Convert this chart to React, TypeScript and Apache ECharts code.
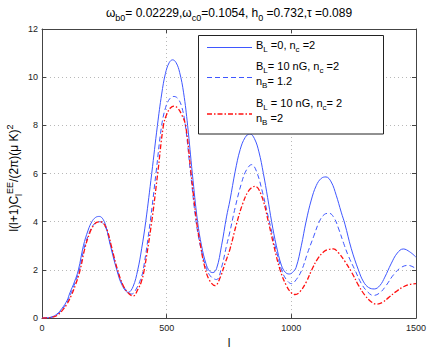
import React, { useEffect, useRef } from "react";
import * as echarts from "echarts";

// multipole l and l(l+1)C_l^EE/(2π) values
const L_BLUE = [0, 20, 40, 60, 80, 100, 112, 130, 146, 166, 185, 200, 215, 230, 245, 258, 273, 300, 322, 346, 365, 384, 400, 416, 440, 463, 480, 495, 510, 524, 538, 552, 568, 584, 603, 624, 640, 658, 672, 685, 700, 720, 740, 754, 775, 795, 815, 834, 852, 870, 888, 905, 921, 940, 960, 976, 992, 1005, 1019, 1040, 1059, 1080, 1100, 1120, 1139, 1160, 1180, 1200, 1215, 1240, 1269, 1290, 1310, 1333, 1355, 1375, 1400, 1425, 1449, 1475, 1500];
const V_BLUE = [0, 0.01, 0.05, 0.17, 0.4, 0.72, 1.05, 1.5, 2.0, 3.0, 3.65, 4.0, 4.18, 4.22, 4.1, 3.75, 3.07, 2.0, 1.35, 1.07, 1.3, 2.0, 2.9, 4.0, 6.0, 8.0, 9.3, 10.15, 10.6, 10.72, 10.6, 10.2, 9.35, 8.0, 6.0, 4.0, 3.0, 2.25, 1.95, 1.89, 2.05, 3.0, 4.2, 4.9, 6.1, 7.0, 7.5, 7.65, 7.45, 6.9, 6.0, 5.0, 4.0, 3.0, 2.2, 1.9, 1.83, 1.9, 2.1, 3.0, 4.0, 4.9, 5.5, 5.8, 5.86, 5.65, 5.1, 4.4, 3.9, 2.9, 2.0, 1.5, 1.27, 1.21, 1.35, 1.7, 2.25, 2.7, 2.87, 2.75, 2.53];

const L_DASH = [0, 20, 40, 60, 80, 100, 115, 132, 150, 170, 190, 205, 219, 232, 247, 261, 276, 302, 325, 345, 360, 380, 395, 406, 434, 457, 480, 496, 512, 529, 546, 561, 575, 596, 618, 635, 655, 675, 700, 720, 740, 754, 775, 800, 820, 841, 860, 885, 912, 935, 961, 980, 1001, 1020, 1042, 1065, 1090, 1112, 1132, 1152, 1172, 1190, 1210, 1230, 1255, 1280, 1305, 1329, 1355, 1380, 1410, 1440, 1469, 1500];
const V_DASH = [0, 0.01, 0.04, 0.14, 0.35, 0.65, 1.0, 1.45, 2.0, 2.95, 3.55, 3.85, 3.98, 4.0, 3.9, 3.6, 3.0, 2.0, 1.35, 1.08, 1.0, 1.25, 1.6, 2.0, 4.0, 6.0, 8.0, 8.75, 9.1, 9.2, 9.1, 8.75, 8.0, 6.0, 4.0, 3.0, 2.2, 1.75, 1.6, 2.1, 3.0, 3.6, 4.6, 5.6, 6.15, 6.37, 6.1, 5.2, 4.0, 3.0, 2.0, 1.6, 1.43, 1.6, 2.0, 2.7, 3.4, 4.0, 4.3, 4.35, 4.15, 3.7, 3.1, 2.55, 2.0, 1.45, 1.1, 0.94, 1.05, 1.35, 1.8, 2.1, 2.19, 2.05];

const L_RED = [0, 20, 40, 60, 80, 100, 118, 135, 153, 172, 192, 207, 221, 234, 249, 263, 278, 303, 328, 350, 366, 385, 398, 410, 440, 464, 487, 500, 515, 529, 544, 560, 576, 598, 620, 636, 651, 670, 694, 715, 735, 754, 780, 805, 830, 854, 880, 908, 930, 955, 980, 1000, 1015, 1035, 1060, 1082, 1105, 1130, 1150, 1169, 1190, 1215, 1242, 1270, 1295, 1320, 1342, 1365, 1390, 1420, 1450, 1475, 1500];
const V_RED = [0, 0.005, 0.03, 0.11, 0.3, 0.58, 0.95, 1.4, 2.0, 2.9, 3.55, 3.85, 3.98, 4.0, 3.9, 3.6, 3.0, 2.0, 1.3, 1.0, 0.92, 1.2, 1.5, 2.0, 4.0, 6.0, 8.0, 8.45, 8.72, 8.8, 8.72, 8.45, 8.0, 6.0, 4.0, 3.0, 2.2, 1.6, 1.35, 1.7, 2.3, 2.87, 3.9, 4.75, 5.3, 5.47, 5.1, 4.0, 3.0, 2.0, 1.35, 1.05, 0.98, 1.1, 1.5, 2.0, 2.45, 2.75, 2.85, 2.87, 2.7, 2.35, 1.9, 1.35, 0.95, 0.68, 0.58, 0.65, 0.85, 1.1, 1.3, 1.4, 1.43];

const X_MIN = 0, X_MAX = 1500, X_STEP = 500;
const Y_MIN = 0, Y_MAX = 12, Y_STEP = 2;

const zip = (ls: number[], vs: number[]) => ls.map((l, i) => [l, vs[i]]);

const FONT = "'Liberation Sans', Arial, Helvetica, sans-serif";
const BLUE = "#3f57ff";
const RED = "#ff1010";

export default function App() {
  const ref = useRef<HTMLDivElement>(null);
  useEffect(() => {
    if (!ref.current) return;
    const chart = echarts.init(ref.current, undefined, { renderer: "svg" });
    const grid = { left: 42, right: 13, top: 29, bottom: 28 };
    const gridLine = { show: true, lineStyle: { color: "#b8b8b8", type: [1, 3] as any, width: 1 } };
    const axisLine = { show: true, onZero: false, lineStyle: { color: "#444", width: 1 } };
    const tick = { show: true, inside: true, length: 4, lineStyle: { color: "#444" } };
    const label = { fontSize: 9, color: "#222", fontFamily: FONT, formatter: (v: number) => String(v) };
    const rich = (fs: number) => ({
      n: { fontSize: fs, fontFamily: FONT, color: "#111", lineHeight: fs + 6, verticalAlign: "middle" },
      s: { fontSize: fs - 3, fontFamily: FONT, color: "#111", verticalAlign: "bottom", lineHeight: fs + 6, padding: [5, 0, 0, 0] },
      p: { fontSize: fs - 3, fontFamily: FONT, color: "#111", verticalAlign: "top", lineHeight: fs + 6, padding: [0, 0, 5, 0] },
    });
    const option: any = {
      animation: false,
      backgroundColor: "#ffffff",
      grid,
      xAxis: [
        {
          type: "value", min: X_MIN, max: X_MAX, interval: X_STEP,
          axisLine, axisTick: tick, splitLine: gridLine,
          axisLabel: { ...label, margin: 5 },
          name: "l", nameLocation: "middle", nameGap: 14,
          nameTextStyle: { fontSize: 12, fontFamily: FONT, color: "#111" },
        },
        {
          type: "value", position: "top", min: X_MIN, max: X_MAX, interval: X_STEP,
          axisLine, axisTick: tick, splitLine: { show: false }, axisLabel: { show: false },
        },
      ],
      yAxis: [
        {
          type: "value", min: Y_MIN, max: Y_MAX, interval: Y_STEP,
          axisLine, axisTick: tick, splitLine: gridLine,
          axisLabel: { ...label, margin: 4 },
        },
        {
          type: "value", position: "right", min: Y_MIN, max: Y_MAX, interval: Y_STEP,
          axisLine, axisTick: tick, splitLine: { show: false }, axisLabel: { show: false },
        },
      ],
      series: [
        {
          type: "line", name: "B_L=0, n_c=2", data: zip(L_BLUE, V_BLUE), smooth: 0.4, showSymbol: false,
          lineStyle: { color: BLUE, width: 1 }, z: 3,
        },
        {
          type: "line", name: "B_L=10 nG, n_c=2, n_B=1.2", data: zip(L_DASH, V_DASH), smooth: 0.4, showSymbol: false,
          lineStyle: { color: BLUE, width: 1, type: [5, 3] }, z: 3,
        },
        {
          type: "line", name: "B_L=10 nG, n_c=2, n_B=2", data: zip(L_RED, V_RED), smooth: 0.4, showSymbol: false,
          lineStyle: { color: RED, width: 1.3, type: [5, 2, 1.5, 2] }, z: 4,
        },
      ],
      graphic: [
        {
          type: "text", x: 229, y: 13, z: 10,
          style: {
            text: "{n|ω}{s|b0}{n|= 0.02229,ω}{s|c0}{n|=0.1054, h}{s|0}{n| =0.732,τ =0.089}",
            rich: rich(12), align: "center", verticalAlign: "middle",
          },
        },
        {
          type: "text", x: 14, y: 178, rotation: Math.PI / 2, z: 10,
          style: {
            text: "{n|l(l+1)C}{s|l}{p|EE}{n|/(2π)(μ K)}{p|2}",
            rich: rich(12), align: "center", verticalAlign: "middle",
          },
        },
        {
          type: "rect", z: 20,
          shape: { x: 198.5, y: 35.5, width: 185, height: 98.5 },
          style: { fill: "#fff", stroke: "#222", lineWidth: 1 },
        },
        {
          type: "line", z: 21, shape: { x1: 207, y1: 47.5, x2: 252, y2: 47.5 },
          style: { stroke: BLUE, lineWidth: 1 },
        },
        {
          type: "line", z: 21, shape: { x1: 207, y1: 77.5, x2: 252, y2: 77.5 },
          style: { stroke: BLUE, lineWidth: 1, lineDash: [5, 3] },
        },
        {
          type: "line", z: 21, shape: { x1: 207, y1: 114, x2: 252, y2: 114 },
          style: { stroke: RED, lineWidth: 1.3, lineDash: [5, 2, 1.5, 2] },
        },
        {
          type: "text", x: 256, y: 45, z: 21,
          style: { text: "{n|B}{s|L}{n| =0, n}{s|c}{n| =2}", rich: rich(11), align: "left", verticalAlign: "middle" },
        },
        {
          type: "text", x: 256, y: 66, z: 21,
          style: { text: "{n|B}{s|L}{n|= 10 nG, n}{s|c}{n| =2}", rich: rich(11), align: "left", verticalAlign: "middle" },
        },
        {
          type: "text", x: 256, y: 81, z: 21,
          style: { text: "{n|n}{s|B}{n|= 1.2}", rich: rich(11), align: "left", verticalAlign: "middle" },
        },
        {
          type: "text", x: 256, y: 103, z: 21,
          style: { text: "{n|B}{s|L}{n| = 10 nG, n}{s|c}{n|= 2}", rich: rich(11), align: "left", verticalAlign: "middle" },
        },
        {
          type: "text", x: 256, y: 118, z: 21,
          style: { text: "{n|n}{s|B}{n| =2}", rich: rich(11), align: "left", verticalAlign: "middle" },
        },
      ],
    };
    chart.setOption(option);
    return () => chart.dispose();
  }, []);
  return <div ref={ref} style={{ width: 429, height: 354, position: "absolute", left: 0, top: 0, background: "#fff" }} />;
}
